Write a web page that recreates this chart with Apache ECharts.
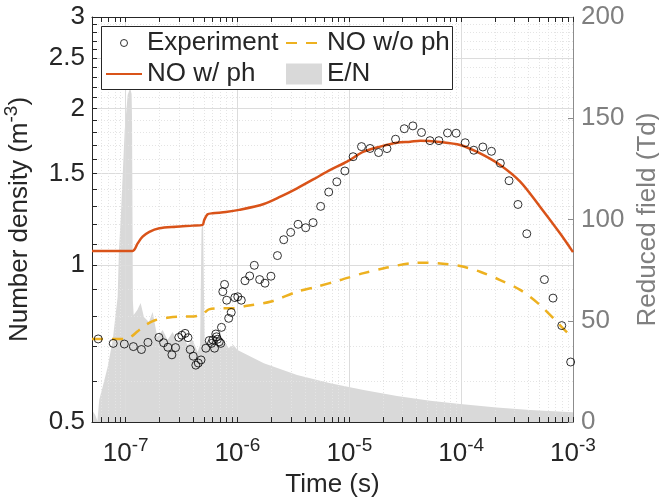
<!DOCTYPE html>
<html>
<head>
<meta charset="utf-8">
<script src="https://cdn.jsdelivr.net/npm/echarts@6/dist/echarts.min.js"></script>
<style>html,body{margin:0;padding:0;background:#fff}#c{width:659px;height:499px}</style>
</head>
<body>
<div id="c"></div>
<script>
// ---- Experiment (open circles) ----
const expTime = [5.68e-8,7.74e-8,9.73e-8,1.172e-7,1.384e-7,1.582e-7,1.983e-7,2.184e-7,2.385e-7,2.59e-7,2.795e-7,2.985e-7,3.18e-7,3.40e-7,3.61e-7,3.78e-7,4.02e-7,4.24e-7,4.46e-7,4.72e-7,5.21e-7,5.59e-7,5.86e-7,6.02e-7,6.23e-7,6.40e-7,6.49e-7,6.62e-7,6.87e-7,7.09e-7,7.19e-7,7.39e-7,7.66e-7,8.01e-7,8.34e-7,8.79e-7,9.46e-7,1.006e-6,1.081e-6,1.166e-6,1.285e-6,1.413e-6,1.578e-6,1.761e-6,1.991e-6,2.276e-6,2.59e-6,2.99e-6,3.48e-6,4.07e-6,4.74e-6,5.54e-6,6.54e-6,7.73e-6,9.12e-6,1.081e-5,1.285e-5,1.531e-5,1.827e-5,2.17e-5,2.59e-5,3.10e-5,3.70e-5,4.42e-5,5.26e-5,6.32e-5,7.55e-5,9.02e-5,1.086e-4,1.298e-4,1.563e-4,1.866e-4,2.24e-4,2.68e-4,3.22e-4,3.86e-4,5.55e-4,6.63e-4,7.93e-4,9.53e-4];
const expDensity = [0.722,0.708,0.706,0.698,0.689,0.711,0.727,0.710,0.696,0.673,0.695,0.727,0.734,0.740,0.726,0.689,0.669,0.643,0.649,0.658,0.693,0.717,0.708,0.719,0.693,0.738,0.729,0.721,0.713,0.708,0.760,0.890,0.919,0.857,0.791,0.812,0.867,0.870,0.857,0.934,0.954,1.000,0.939,0.924,0.953,1.044,1.120,1.157,1.199,1.181,1.208,1.298,1.383,1.447,1.518,1.617,1.691,1.677,1.647,1.676,1.747,1.830,1.853,1.800,1.736,1.736,1.796,1.794,1.720,1.664,1.688,1.656,1.571,1.454,1.309,1.150,0.939,0.865,0.766,0.652];

// ---- NO w/ ph (solid orange) ----
const phTime = [5e-8,1.155e-7,1.28e-7,1.418e-7,1.629e-7,2.0e-7,2.81e-7,3.97e-7,4.87e-7,5.04e-7,5.40e-7,5.98e-7,7.87e-7,1.035e-6,1.72e-6,2.42e-6,3.41e-6,4.80e-6,6.76e-6,9.53e-6,1.342e-5,1.892e-5,2.67e-5,3.51e-5,4.31e-5,6.49e-5,9.79e-5,1.478e-4,2.23e-4,3.37e-4,5.07e-4,7.65e-4,1e-3];
const phDensity = [1.066,1.066,1.102,1.135,1.160,1.178,1.186,1.192,1.196,1.222,1.253,1.259,1.266,1.278,1.312,1.355,1.406,1.464,1.525,1.582,1.653,1.691,1.720,1.728,1.736,1.726,1.703,1.641,1.559,1.448,1.296,1.152,1.06];

// ---- NO w/o ph (dashed yellow) ----
const woTime = [5e-8,9.8e-8,1.108e-7,1.272e-7,1.509e-7,1.853e-7,2.355e-7,2.99e-7,3.80e-7,4.84e-7,5.18e-7,5.54e-7,7.30e-7,9.27e-7,1.179e-6,2.0e-6,3.41e-6,5.15e-6,8.32e-6,1.342e-5,2.17e-5,3.51e-5,4.94e-5,6.49e-5,9.79e-5,1.478e-4,2.23e-4,3.37e-4,5.07e-4,7.15e-4,1e-3];
const woDensity = [0.722,0.722,0.728,0.746,0.768,0.785,0.793,0.797,0.797,0.803,0.814,0.823,0.827,0.827,0.835,0.852,0.890,0.910,0.937,0.966,0.990,1.009,1.012,1.008,0.997,0.972,0.937,0.897,0.839,0.779,0.723];

// ---- E/N reduced field (grey area, right axis) ----
const enTime = [5e-8,5.34e-8,5.59e-8,5.80e-8,6.23e-8,6.91e-8,7.66e-8,8.48e-8,8.71e-8,9.08e-8,9.8e-8,1.042e-7,1.097e-7,1.13e-7,1.14e-7,1.16e-7,1.179e-7,1.272e-7,1.361e-7,1.456e-7,1.614e-7,1.742e-7,1.918e-7,2.14e-7,2.37e-7,2.63e-7,2.91e-7,3.23e-7,3.58e-7,3.97e-7,4.40e-7,4.63e-7,4.77e-7,4.92e-7,5.08e-7,5.51e-7,6.11e-7,6.77e-7,7.50e-7,8.31e-7,9.21e-7,1.0e-6,1.72e-6,3.41e-6,6.76e-6,1.342e-5,2.67e-5,5.28e-5,9.79e-5,2.08e-4,4.13e-4,1e-3];
const enField = [5.9,3.5,0.5,10.9,17.4,27.3,40.5,61.9,85,103,144,161.5,165,162,150,60,52.8,55.3,58.8,51.8,49.4,54.3,42,45.4,40.5,44.4,39,42.5,38,40.5,34.6,38,95,99,40.5,38,41.5,37.5,40.5,36.5,38,35.6,29.0,23.2,19.1,15.8,12.8,10.5,8.9,7.1,5.9,4.8];

// ---- axis ticks / labels ----
const xMajor = [1e-7,1e-6,1e-5,1e-4,1e-3];
const xMinorMult = [2,3,4,5,6,7,8,9];
const xDecades = [1e-8,1e-7,1e-6,1e-5,1e-4];
const yMajor = [0.5,1,1.5,2,2.5,3];
const yMinor = [0.6,0.7,0.8,0.9,1.1,1.2,1.3,1.4,1.6,1.7,1.8,1.9,2.1,2.2,2.3,2.4,2.6,2.7,2.8,2.9];

const xMinor = [];
xDecades.forEach(d => xMinorMult.forEach(m => { const v = +(m*d).toPrecision(3); if (v >= 5e-8 && v <= 1e-3) xMinor.push(v); }));
const xAll = xMajor.concat(xMinor);
const yAll = yMajor.concat(yMinor);

const FONT = 'Liberation Sans, Arial, Helvetica, sans-serif';
const TXT = '#262626';
const GREY = '#7f7f7f';
const FS = 26;

const zip = (a, b) => a.map((v, i) => [v, b[i]]);

const xBase = {type:'log', logBase:10, min:5e-8, max:1e-3, gridIndex:0, z:1};
const yBase = {type:'log', logBase:10, min:0.5, max:3, gridIndex:0, z:1};
const hidden = {axisLine:{show:false}, axisLabel:{show:false}};

const chart = echarts.init(document.getElementById('c'), null, {renderer:'canvas'});
chart.setOption({
  animation:false,
  backgroundColor:'#fff',
  grid:{left:92, right:86, top:17, bottom:77, containLabel:false, outerBoundsMode:'none'},
  xAxis:[
    Object.assign({}, xBase, {
      position:'bottom',
      axisLine:{show:true, lineStyle:{color:TXT, width:1}},
      axisTick:{show:true, inside:true, length:5, customValues:xAll, lineStyle:{color:TXT, width:1}},
      axisLabel:{show:true, customValues:xMajor, margin:14,
        formatter: v => '{b|10}{s|' + Math.round(Math.log10(v)) + '}',
        rich:{b:{fontSize:FS, lineHeight:36, color:TXT, fontFamily:FONT},
              s:{fontSize:19, lineHeight:19, verticalAlign:'top', color:TXT, fontFamily:FONT}}},
      splitLine:{show:false},
      name:'Time (s)', nameLocation:'middle', nameGap:47,
      nameTextStyle:{fontSize:FS, color:TXT, fontFamily:FONT}
    }),
    Object.assign({}, xBase, {
      position:'top',
      axisLine:{show:true, lineStyle:{color:TXT, width:1}},
      axisTick:{show:true, inside:true, length:5, customValues:xAll, lineStyle:{color:TXT, width:1}},
      axisLabel:{show:false}, splitLine:{show:false}
    }),
    Object.assign({}, xBase, hidden, {
      position:'bottom',
      axisTick:{show:false, customValues:xMajor},
      splitLine:{show:true, lineStyle:{color:'#dcdcdc', width:1}}
    }),
    Object.assign({}, xBase, hidden, {
      position:'bottom',
      axisTick:{show:false, customValues:xMinor},
      splitLine:{show:true, lineStyle:{color:'#e4e4e4', width:1, type:[1,2]}}
    })
  ],
  yAxis:[
    Object.assign({}, yBase, {
      position:'left',
      axisLine:{show:true, lineStyle:{color:TXT, width:1}},
      axisTick:{show:true, inside:true, length:5, customValues:yAll, lineStyle:{color:TXT, width:1}},
      axisLabel:{show:true, customValues:yMajor, margin:7, fontSize:FS, color:TXT, fontFamily:FONT,
        formatter: v => String(Math.round(v*10)/10)},
      splitLine:{show:false},
      name:'Number density (m{s|-3})', nameLocation:'middle', nameGap:38,
      nameTextStyle:{fontSize:FS, lineHeight:36, color:TXT, fontFamily:FONT,
        rich:{s:{fontSize:19, lineHeight:19, verticalAlign:'top', color:TXT, fontFamily:FONT}}}
    }),
    {
      type:'value', min:0, max:200, interval:50, position:'right', gridIndex:0, z:1,
      axisLine:{show:true, lineStyle:{color:'#8c8c8c', width:1}},
      axisTick:{show:true, inside:true, length:5, lineStyle:{color:'#8c8c8c', width:1}},
      axisLabel:{show:true, margin:8, fontSize:FS, color:GREY, fontFamily:FONT},
      splitLine:{show:false},
      name:'Reduced field (Td)', nameLocation:'middle', nameGap:60,
      nameTextStyle:{fontSize:FS, color:GREY, fontFamily:FONT}
    },
    Object.assign({}, yBase, hidden, {
      position:'left',
      axisTick:{show:false, customValues:yMajor},
      splitLine:{show:true, lineStyle:{color:'#dcdcdc', width:1}}
    }),
    Object.assign({}, yBase, hidden, {
      position:'left',
      axisTick:{show:false, customValues:yMinor},
      splitLine:{show:true, lineStyle:{color:'#e4e4e4', width:1, type:[1,2]}}
    })
  ],
  graphic:[{
    type:'rect', z:5, silent:true,
    shape:{x:101.5, y:26.5, width:351, height:63},
    style:{fill:'#fff', stroke:TXT, lineWidth:1}
  }],
  legend:[
    {orient:'vertical', left:105, top:30, padding:0, itemGap:5, itemWidth:36, itemHeight:7, selectedMode:false, z:6,
     textStyle:{fontSize:FS, color:TXT, fontFamily:FONT},
     data:[{name:'Experiment', icon:'circle', itemStyle:{color:'rgba(0,0,0,0)', borderColor:'#000', borderWidth:1}},
           {name:'NO w/ ph', itemStyle:{opacity:0}}]},
    {orient:'vertical', left:285, top:30, padding:0, itemGap:5, itemWidth:36, itemHeight:21, selectedMode:false, z:6,
     textStyle:{fontSize:FS, color:TXT, fontFamily:FONT},
     data:[{name:'NO w/o ph', itemStyle:{opacity:0}},
           {name:'E/N', icon:'rect', itemStyle:{color:'#d9d9d9', borderWidth:0}}]}
  ],
  series:[
    {name:'E/N', type:'line', xAxisIndex:0, yAxisIndex:1, z:0, data:zip(enTime, enField),
     symbol:'none', showSymbol:false, color:'#d9d9d9',
     lineStyle:{width:0, color:'#d9d9d9'}, areaStyle:{color:'#d9d9d9', opacity:1}},
    {name:'NO w/o ph', type:'line', xAxisIndex:0, yAxisIndex:0, z:3, data:zip(woTime, woDensity),
     symbol:'none', showSymbol:false, color:'#EDB120', smooth:0.3,
     lineStyle:{width:2.5, color:'#EDB120', type:[11,9]}},
    {name:'NO w/ ph', type:'line', xAxisIndex:0, yAxisIndex:0, z:3, data:zip(phTime, phDensity),
     symbol:'none', showSymbol:false, color:'#D95319', smooth:0.3,
     lineStyle:{width:2.5, color:'#D95319'}},
    {name:'Experiment', type:'scatter', xAxisIndex:0, yAxisIndex:0, z:4, data:zip(expTime, expDensity),
     symbol:'circle', symbolSize:8, color:'#000',
     itemStyle:{color:'rgba(0,0,0,0)', borderColor:'#000', borderWidth:1}}
  ]
});
</script>
</body>
</html>
